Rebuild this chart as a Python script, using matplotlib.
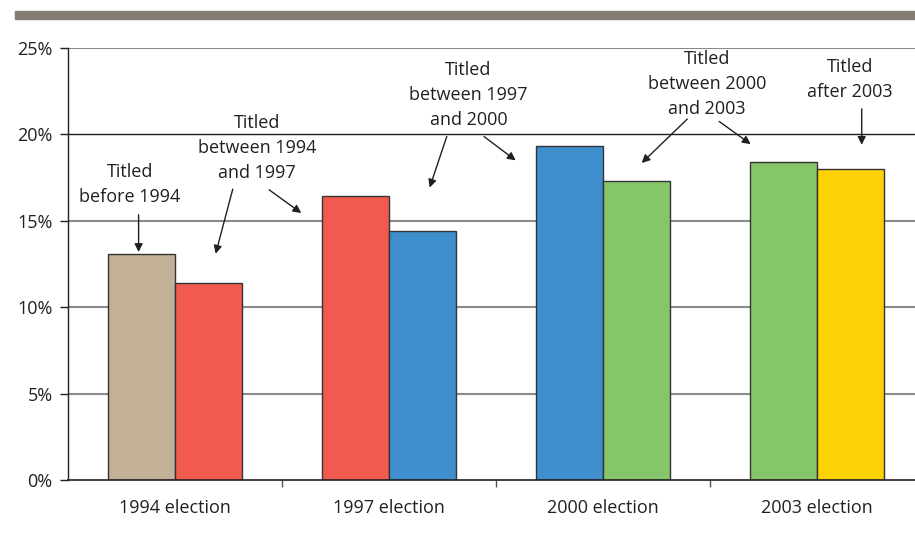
import numpy as np
import matplotlib
matplotlib.use("Agg")
import matplotlib.pyplot as plt
from matplotlib.patches import Rectangle

# data
elections = ["1994 election", "1997 election", "2000 election", "2003 election"]
first_bar = [13.1, 16.45, 19.35, 18.4]
second_bar = [11.4, 14.4, 17.3, 18.0]
first_colors = ["#c2b196", "#f05a4f", "#3f8fcd", "#86c66a"]
second_colors = ["#f05a4f", "#3f8fcd", "#86c66a", "#fdd204"]
yticks = [0, 5, 10, 15, 20, 25]
ytick_labels = ["0%", "5%", "10%", "15%", "20%", "25%"]

# callout labels: text, text centre (x, y), arrows [(from, to), ...] in data units
callouts = [
    ("Titled\nbefore 1994", (-0.21, 17.12), [((-0.17, 15.35), (-0.17, 13.2))]),
    ("Titled\nbetween 1994\nand 1997", (0.383, 19.22), [((0.27, 16.83), (0.19, 13.1)),
                                                       ((0.44, 16.79), (0.59, 15.45))]),
    ("Titled\nbetween 1997\nand 2000", (1.371, 22.25), [((1.27, 19.87), (1.19, 16.92)),
                                                       ((1.444, 19.87), (1.592, 18.49))]),
    ("Titled\nbetween 2000\nand 2003", (2.486, 22.88), [((2.394, 20.88), (2.181, 18.34)),
                                                       ((2.543, 20.74), (2.69, 19.43))]),
    ("Titled\nafter 2003", (3.154, 23.18), [((3.209, 21.47), (3.209, 19.39))]),
]

text_color = "#231f20"
plt.rcParams["font.family"] = ["Open Sans", "DejaVu Sans"]

fig = plt.figure(figsize=(9.15, 5.33), dpi=100)
ax = fig.add_axes([0.0743, 0.0985, 0.9257, 0.812])

x = np.arange(len(elections))
w = 0.311
ax.bar(x - w / 2, first_bar, w, color=first_colors, edgecolor="#333333", linewidth=1, zorder=3)
ax.bar(x + w / 2, second_bar, w, color=second_colors, edgecolor="#333333", linewidth=1, zorder=3)

# horizontal gridlines: 20% is drawn in black
for v in yticks[1:]:
    if v == 20:
        ax.axhline(v, color="#231f20", lw=1.0, zorder=1)
    else:
        ax.axhline(v, color="#8a8a8a", lw=1.5, zorder=1)

ax.set_xlim(-0.5, 3.458)
ax.set_ylim(0, 25)
ax.set_yticks(yticks)
ax.set_yticklabels(ytick_labels, fontsize=13, color=text_color)
ax.set_xticks(x)
ax.set_xticklabels(elections, fontsize=13, color=text_color)
ax.tick_params(axis="x", which="major", length=0, pad=13)
ax.set_xticks([0.5, 1.5, 2.5], minor=True)
ax.tick_params(axis="x", which="minor", length=5, color="#555555", width=1)
ax.tick_params(axis="y", length=6, width=1, color="#231f20", pad=5)

for s in ["top", "right"]:
    ax.spines[s].set_visible(False)
ax.spines["left"].set_color("#231f20")
ax.spines["bottom"].set_color("#231f20")
ax.spines["left"].set_linewidth(1)
ax.spines["bottom"].set_linewidth(1.2)
ax.spines["bottom"].set_zorder(4)

for label, (tx, ty), arrows in callouts:
    ax.text(tx, ty, label, ha="center", va="center", fontsize=13,
            color=text_color, linespacing=1.5, zorder=5)
    for start, end in arrows:
        ax.annotate("", xy=end, xytext=start,
                    arrowprops=dict(arrowstyle="-|>", color="#231f20", lw=1,
                                    mutation_scale=12, shrinkA=0, shrinkB=0),
                    zorder=5)

# gray band across the top
fig.patches.append(Rectangle((15 / 915, 1 - 18.5 / 533), 1.0, 7.5 / 533,
                             transform=fig.transFigure, color="#857c73", zorder=0))

fig.savefig("out.png", dpi=100)
